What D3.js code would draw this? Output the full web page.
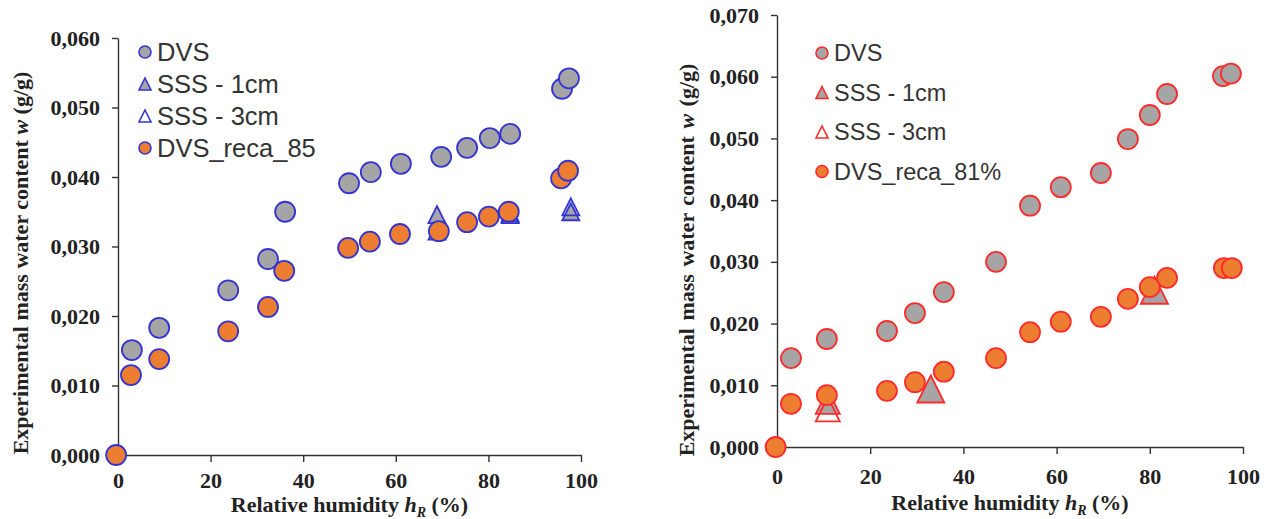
<!DOCTYPE html>
<html><head><meta charset="utf-8">
<script src="https://cdn.jsdelivr.net/npm/d3@7/dist/d3.min.js"></script>
<style>
html,body{margin:0;padding:0;background:#fff;}
svg{display:block;}
</style></head>
<body>
<svg id="c" width="1271" height="519"></svg>
<script>
// ---------- DATA ----------
const xTicks = [0, 20, 40, 60, 80, 100];
const leftYTicks = [0, 0.01, 0.02, 0.03, 0.04, 0.05, 0.06];
const rightYTicks = [0, 0.01, 0.02, 0.03, 0.04, 0.05, 0.06, 0.07];

const leftLegend = ["DVS", "SSS - 1cm", "SSS - 3cm", "DVS_reca_85"];
const rightLegend = ["DVS", "SSS - 1cm", "SSS - 3cm", "DVS_reca_81%"];

// Left chart
const leftDVS = [[3.0,0.0151],[8.9,0.0183],[23.8,0.0237],[32.4,0.0282],[36.1,0.0350],
  [49.9,0.0391],[54.6,0.0407],[61.1,0.0419],[69.8,0.0429],[75.4,0.0442],[80.3,0.0456],
  [84.7,0.0462],[95.9,0.0527],[97.4,0.0542]];
const leftSSS1 = [[68.9,0.0346],[84.7,0.0348],[97.8,0.0350]];
const leftSSS3 = [[68.9,0.0322],[84.7,0.0346],[97.8,0.0357]];
const leftReca = [[-0.4,0],[2.8,0.0115],[8.9,0.0138],[23.8,0.0178],[32.4,0.0213],[35.9,0.0265],
  [49.7,0.0298],[54.4,0.0307],[60.9,0.0318],[69.3,0.0322],[75.4,0.0335],[80.1,0.0343],
  [84.4,0.0350],[95.7,0.0398],[97.2,0.0409]];

// Right chart
const rightDVS = [[3.0,0.0144],[10.7,0.0175],[23.6,0.0188],[29.6,0.0217],[35.8,0.0251],
  [47.0,0.0300],[54.3,0.0391],[60.9,0.0421],[69.5,0.0444],[75.3,0.0499],[80.0,0.0538],
  [83.7,0.0572],[95.7,0.0601],[97.4,0.0605]];
const rightSSS1 = [[10.9,0.0073],[33.0,0.0094],[81.0,0.0254]];
const rightSSS3 = [[10.9,0.0061]];
const rightReca = [[-0.3,0],[3.0,0.0070],[10.7,0.0084],[23.6,0.0091],[29.6,0.0105],[35.8,0.0122],
  [47.0,0.0144],[54.3,0.0186],[60.9,0.0203],[69.5,0.0211],[75.3,0.0240],[80.0,0.0259],
  [83.7,0.0274],[95.9,0.0290],[97.6,0.0290]];

// ---------- DRAW ----------
const svg = d3.select("#c");
const loc = d3.formatLocale({decimal: ",", thousands: ".", grouping: [3], currency: ["", ""]});
const fmtY = loc.format(".3f");
const GRAY = "#a5a5a5", ORANGE = "#ed7d31";

function tri(w, h) {
  return `M0,${-h/2}L${w/2},${h/2}L${-w/2},${h/2}Z`;
}

function chart(cfg) {
  const g = svg.append("g");
  const x = d3.scaleLinear().domain([0, 100]).range([cfg.x0, cfg.x1]);
  const y = d3.scaleLinear().domain([0, cfg.yMax]).range([cfg.y0, cfg.y1]);

  const xa = g.append("g").attr("transform", `translate(0,${cfg.y0})`)
    .call(d3.axisBottom(x).tickValues(xTicks).tickSize(7).tickPadding(cfg.xPad).tickSizeOuter(0));
  const ya = g.append("g").attr("transform", `translate(${cfg.x0},0)`)
    .call(d3.axisLeft(y).tickValues(cfg.yTicks).tickFormat(fmtY).tickSize(6).tickPadding(12).tickSizeOuter(0));
  [xa, ya].forEach(a => {
    a.select(".domain").attr("stroke", "#333").attr("stroke-width", 1.4);
    a.selectAll(".tick line").attr("stroke", "#333").attr("stroke-width", 1.4);
    a.selectAll("text").attr("font-family", "Liberation Serif").attr("font-weight", "bold")
      .attr("font-size", 22).attr("fill", "#222");
  });
  xa.selectAll(".tick").filter(d => d === 0).select("line").remove();

  // axis titles
  const xt = g.append("text").attr("x", (cfg.x0 + cfg.x1) / 2).attr("y", cfg.xTitleY)
    .attr("text-anchor", "middle").attr("font-family", "Liberation Serif").attr("font-weight", "bold")
    .attr("font-size", 22).attr("fill", "#222");
  xt.append("tspan").text("Relative humidity ");
  xt.append("tspan").attr("font-style", "italic").text("h");
  xt.append("tspan").attr("font-style", "italic").attr("font-size", 14).attr("dy", 5).text("R");
  xt.append("tspan").attr("dy", -5).text(" (%)");

  const yt = g.append("text")
    .attr("transform", `translate(${cfg.yTitleX},${cfg.yTitleY}) rotate(-90)`)
    .attr("text-anchor", "middle").attr("font-family", "Liberation Serif").attr("font-weight", "bold")
    .attr("font-size", 22).attr("fill", "#222").attr("word-spacing", cfg.wordSp);
  yt.append("tspan").text(cfg.yTitleA);
  yt.append("tspan").attr("font-style", "italic").text("w");
  yt.append("tspan").text(" (g/g)");

  const S = cfg.stroke;
  // series in Excel order
  g.append("g").selectAll("circle").data(cfg.dvs).join("circle")
    .attr("cx", d => x(d[0])).attr("cy", d => y(d[1])).attr("r", 10)
    .attr("fill", GRAY).attr("stroke", S).attr("stroke-width", 1.8);
  g.append("g").selectAll("path").data(cfg.sss1).join("path")
    .attr("d", (d, i) => tri(cfg.triW(i), cfg.triW(i)))
    .attr("transform", d => `translate(${x(d[0])},${y(d[1])})`)
    .attr("fill", GRAY).attr("stroke", S).attr("stroke-width", 1.8);
  g.append("g").selectAll("path").data(cfg.sss3).join("path")
    .attr("d", (d, i) => tri(cfg.triW3, cfg.triW3))
    .attr("transform", d => `translate(${x(d[0])},${y(d[1])})`)
    .attr("fill", "none").attr("stroke", S).attr("stroke-width", 1.8);
  g.append("g").selectAll("circle").data(cfg.reca).join("circle")
    .attr("cx", d => x(d[0])).attr("cy", d => y(d[1])).attr("r", 10)
    .attr("fill", ORANGE).attr("stroke", S).attr("stroke-width", 1.8);

  // legend
  const lg = g.append("g");
  cfg.legend.forEach((name, i) => {
    const ly = cfg.legY + i * cfg.legStep;
    if (i === 0 || i === 3) {
      lg.append("circle").attr("cx", cfg.legX).attr("cy", ly).attr("r", 6)
        .attr("fill", i === 0 ? GRAY : ORANGE).attr("stroke", S).attr("stroke-width", 1.6);
    } else {
      lg.append("path").attr("d", tri(12, 12)).attr("transform", `translate(${cfg.legX},${ly})`)
        .attr("fill", i === 1 ? GRAY : "#fff").attr("stroke", S).attr("stroke-width", 1.6);
    }
    lg.append("text").attr("x", cfg.legX + 12).attr("y", ly).attr("dy", "0.36em")
      .attr("font-family", "Liberation Sans").attr("font-size", cfg.legFont).attr("fill", "#333")
      .text(name);
  });
}

chart({x0: 118, x1: 581, y0: 455, y1: 38, yMax: 0.06, yTicks: leftYTicks,
  dvs: leftDVS, sss1: leftSSS1, sss3: leftSSS3, reca: leftReca, stroke: "#3434d4",
  triW: i => 17, triW3: 17, legend: leftLegend, legX: 145, legY: 52, legStep: 32, legFont: 25.5,
  xPad: 10, xTitleY: 512, yTitleX: 28, yTitleY: 263, wordSp: 0,
  yTitleA: "Experimental mass water content "});

chart({x0: 777, x1: 1243, y0: 447, y1: 15, yMax: 0.07, yTicks: rightYTicks,
  dvs: rightDVS, sss1: rightSSS1, sss3: rightSSS3, reca: rightReca, stroke: "#ff2a2a",
  triW: i => i === 0 ? 24 : 27, triW3: 24, legend: rightLegend, legX: 822, legY: 53, legStep: 39.5, legFont: 23.5,
  xPad: 14, xTitleY: 510, yTitleX: 694, yTitleY: 260, wordSp: 2,
  yTitleA: "Experimental  mass water content "});
</script>
</body></html>
